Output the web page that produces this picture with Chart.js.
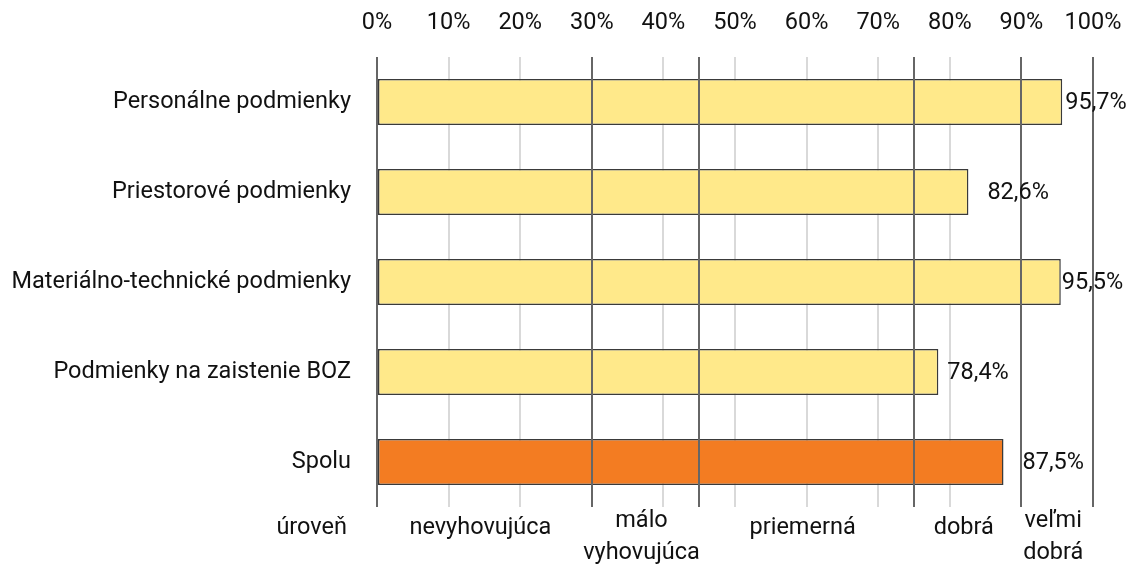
<!DOCTYPE html>
<html>
<head>
<meta charset="utf-8">
<script src="https://cdn.jsdelivr.net/npm/chart.js@4"></script>
<style>
    html, body { margin: 0; padding: 0; background: #fff; }
    #wrap { width: 1132px; height: 567px; }
</style>
</head>
<body>
<div id="wrap"><canvas id="chart" width="1132" height="567"></canvas></div>
<script>
const categories = [
    "Personálne podmienky",
    "Priestorové podmienky",
    "Materiálno-technické podmienky",
    "Podmienky na zaistenie BOZ",
    "Spolu",
];
const values = [95.7, 82.6, 95.5, 78.4, 87.5];
const xTicks = [0, 10, 20, 30, 40, 50, 60, 70, 80, 90, 100];
const levelBounds = [0, 30, 45, 75, 90, 100];
const levelNames = [["nevyhovujúca"], ["málo", "vyhovujúca"], ["priemerná"], ["dobrá"], ["veľmi", "dobrá"]];
const levelTitle = "úroveň";

const yellow = "#FFE98A";
const orange = "#F37C22";
const boundColor = "#666666";
const fontFamily = "Roboto, 'Noto Sans', sans-serif";
const fontSize = 23.5;

function fmt(v) {
    return v.toFixed(1).replace(".", ",") + "%";
}

// level boundary lines over the bars + value labels
const valueLabels = {
    id: "valueLabels",
    afterDatasetsDraw(chart, args, opts) {
        const ctx = chart.ctx;
        const x = chart.scales.x;
        const area = chart.chartArea;
        const meta = chart.getDatasetMeta(0);
        ctx.save();
        ctx.strokeStyle = boundColor;
        ctx.lineWidth = 2;
        levelBounds.forEach(function (b) {
            const px = Math.round(x.getPixelForValue(b));
            ctx.beginPath();
            ctx.moveTo(px, area.top);
            ctx.lineTo(px, area.bottom);
            ctx.stroke();
        });
        ctx.font = fontSize + "px " + fontFamily;
        ctx.fillStyle = "#111";
        ctx.textAlign = "left";
        ctx.textBaseline = "middle";
        meta.data.forEach(function (bar, i) {
            ctx.fillText(fmt(values[i]), bar.x + opts.offsets[i], bar.y + 1);
        });
        ctx.restore();
    },
};

// level names under the chart
const levelLabels = {
    id: "levelLabels",
    afterDraw(chart) {
        const ctx = chart.ctx;
        const x = chart.scales.x;
        const bottom = chart.chartArea.bottom;
        ctx.save();
        ctx.font = fontSize + "px " + fontFamily;
        ctx.fillStyle = "#111";
        ctx.textBaseline = "middle";
        ctx.textAlign = "right";
        ctx.fillText(levelTitle, 347, bottom + 21);
        ctx.textAlign = "center";
        for (let i = 0; i < levelNames.length; i++) {
            const cx = x.getPixelForValue((levelBounds[i] + levelBounds[i + 1]) / 2) - 4;
            const lines = levelNames[i];
            if (lines.length === 1) {
                ctx.fillText(lines[0], cx, bottom + 21);
            } else {
                lines.forEach(function (t, j) {
                    ctx.fillText(t, cx, bottom + 14 + j * 32);
                });
            }
        }
        ctx.restore();
    },
};

Chart.defaults.font.family = fontFamily;
Chart.defaults.font.size = fontSize;
Chart.defaults.color = "#111";

new Chart(document.getElementById("chart"), {
    type: "bar",
    data: {
        labels: categories,
        datasets: [
            {
                data: values,
                backgroundColor: [yellow, yellow, yellow, yellow, orange],
                borderColor: "#3a3a3a",
                borderWidth: 1.5,
                borderSkipped: false,
                categoryPercentage: 1,
                barPercentage: 0.51,
            },
        ],
    },
    options: {
        indexAxis: "y",
        responsive: false,
        animation: false,
        layout: {
            padding: { left: 0, right: 39, top: 0, bottom: 60 },
        },
        plugins: {
            legend: { display: false },
            tooltip: { enabled: false },
            valueLabels: { offsets: [3, 19, 1, 9, 19] },
        },
        scales: {
            x: {
                position: "top",
                min: 0,
                max: 100,
                afterBuildTicks: function (scale) {
                    const t = xTicks.slice();
                    levelBounds.forEach(function (b) {
                        if (t.indexOf(b) < 0) t.push(b);
                    });
                    t.sort(function (a, b) { return a - b; });
                    scale.ticks = t.map(function (v) { return { value: v }; });
                },
                afterFit: function (scale) {
                    scale.height = 57;
                    scale.paddingLeft = 0;
                    scale.paddingRight = 0;
                },
                ticks: {
                    padding: 20,
                    maxRotation: 0,
                    autoSkip: false,
                    callback: function (v) {
                        return xTicks.indexOf(v) >= 0 ? v + "%" : "";
                    },
                },
                grid: {
                    drawTicks: false,
                    lineWidth: 2,
                    color: function (c) {
                        return levelBounds.indexOf(c.tick.value) >= 0 ? boundColor : "#d9d9d9";
                    },
                },
                border: { display: false },
            },
            y: {
                afterFit: function (scale) {
                    scale.width = 377;
                },
                ticks: { padding: 26 },
                grid: { display: false, drawTicks: false },
                border: { display: false },
            },
        },
    },
    plugins: [valueLabels, levelLabels],
});
</script>
</body>
</html>
